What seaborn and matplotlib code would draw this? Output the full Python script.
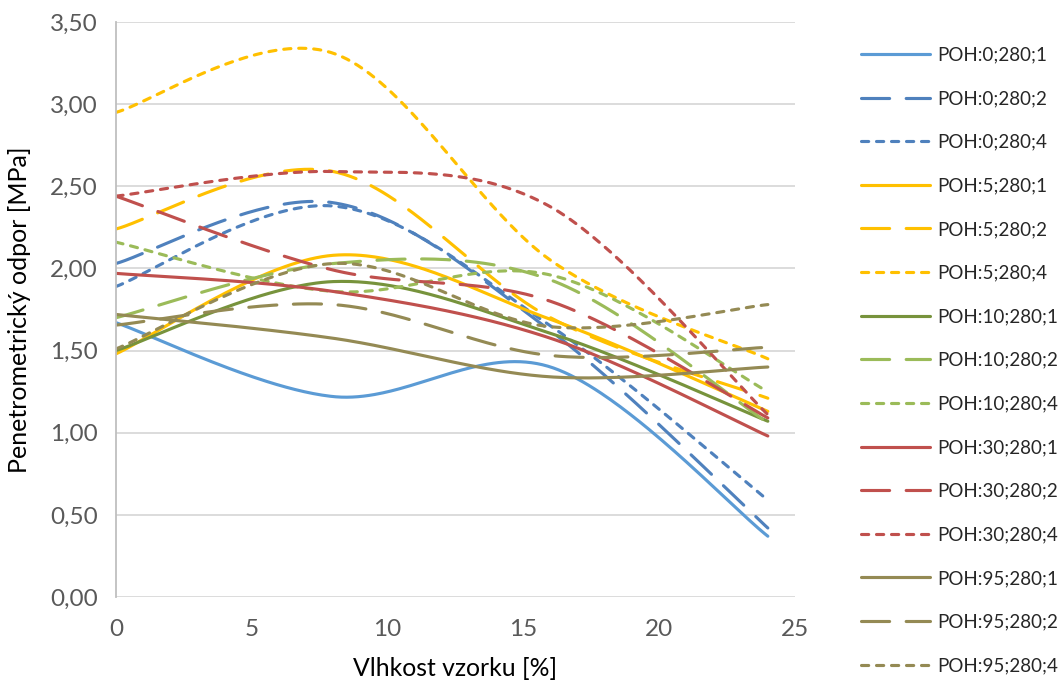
import numpy as np
import pandas as pd
import matplotlib
matplotlib.use("Agg")
import matplotlib.pyplot as plt
import seaborn as sns

# Moisture levels at which penetrometric resistance was measured [%]
moisture = [0, 8, 16, 24]

# Penetrometric resistance [MPa], one list per POH;280;n combination
poh_0_1 = [1.67, 1.22, 1.40, 0.37]
poh_0_2 = [2.03, 2.40, 1.62, 0.42]
poh_0_4 = [1.89, 2.38, 1.65, 0.59]
poh_5_1 = [1.48, 2.08, 1.69, 1.13]
poh_5_2 = [2.24, 2.59, 1.70, 1.21]
poh_5_4 = [2.95, 3.31, 2.05, 1.45]
poh_10_1 = [1.50, 1.92, 1.605, 1.07]
poh_10_2 = [1.70, 2.03, 1.93, 1.06]
poh_10_4 = [2.16, 1.86, 1.96, 1.25]
poh_30_1 = [1.97, 1.86, 1.575, 0.98]
poh_30_2 = [2.44, 1.99, 1.80, 1.09]
poh_30_4 = [2.44, 2.59, 2.375, 1.11]
poh_95_1 = [1.72, 1.575, 1.34, 1.40]
poh_95_2 = [1.655, 1.78, 1.47, 1.52]
poh_95_4 = [1.51, 2.03, 1.645, 1.78]

labels = ["POH:0;280;1", "POH:0;280;2", "POH:0;280;4",
          "POH:5;280;1", "POH:5;280;2", "POH:5;280;4",
          "POH:10;280;1", "POH:10;280;2", "POH:10;280;4",
          "POH:30;280;1", "POH:30;280;2", "POH:30;280;4",
          "POH:95;280;1", "POH:95;280;2", "POH:95;280;4"]
values = [poh_0_1, poh_0_2, poh_0_4, poh_5_1, poh_5_2, poh_5_4,
          poh_10_1, poh_10_2, poh_10_4, poh_30_1, poh_30_2, poh_30_4,
          poh_95_1, poh_95_2, poh_95_4]

colors = ["#5B9BD5", "#4F81BD", "#4F81BD",
          "#FFC000", "#FFC000", "#FFC000",
          "#77933C", "#9BBB59", "#9BBB59",
          "#C0504D", "#C0504D", "#C0504D",
          "#948A54", "#948A54", "#948A54"]
solid = "-"
long_dash = (0, (9, 5.3))
short_dash = (0, (2.3, 2.5))
styles = [solid, long_dash, short_dash] * 5


def smooth_curve(xs, ys, n=80):
    """Cubic Bezier smoothing through every point (Catmull-Rom tangents)."""
    pts = np.column_stack([xs, ys]).astype(float)
    out = []
    for i in range(len(pts) - 1):
        p0 = pts[i - 1] if i > 0 else pts[i]
        p1 = pts[i]
        p2 = pts[i + 1]
        p3 = pts[i + 2] if i + 2 < len(pts) else pts[i + 1]
        c1 = p1 + (p2 - p0) / 6.0
        c2 = p2 - (p3 - p1) / 6.0
        t = np.linspace(0, 1, n)[:, None]
        seg = ((1 - t) ** 3 * p1 + 3 * (1 - t) ** 2 * t * c1
               + 3 * (1 - t) * t ** 2 * c2 + t ** 3 * p2)
        out.append(seg if i == 0 else seg[1:])
    return np.vstack(out)


sns.set_theme(style="white")
plt.rcParams["font.family"] = ["Lato", "DejaVu Sans"]

fig = plt.figure(figsize=(10.59, 6.84), dpi=100)
ax = fig.add_axes([0.1095, 0.1272, 0.6412, 0.8406])

for lab, vals, col, ls in zip(labels, values, colors, styles):
    curve = smooth_curve(moisture, vals)
    df = pd.DataFrame({"x": curve[:, 0], "y": curve[:, 1]})
    sns.lineplot(data=df, x="x", y="y", sort=False, estimator=None, ax=ax,
                 color=col, linestyle=ls, linewidth=2.25, label=lab,
                 solid_capstyle="round", dash_capstyle="round")

ax.set_xlim(0, 25)
ax.set_ylim(0, 3.5)
ax.set_xticks(np.arange(0, 26, 5))
ax.set_yticks(np.arange(0, 3.51, 0.5))
ax.set_yticklabels([f"{v:.2f}".replace(".", ",") for v in np.arange(0, 3.51, 0.5)])

ax.grid(axis="y", color="#D9D9D9", linewidth=1.3)
ax.grid(axis="x", visible=False)
ax.set_axisbelow(True)
for side in ["top", "right", "bottom"]:
    ax.spines[side].set_visible(False)
ax.spines["left"].set_color("#BFBFBF")
ax.spines["left"].set_linewidth(1.3)

ax.tick_params(axis="both", length=0, labelsize=17.5, labelcolor="#595959")
ax.tick_params(axis="x", pad=16)
ax.tick_params(axis="y", pad=13)

ax.set_xlabel("Vlhkost vzorku [%]", fontsize=17.8, color="#000000", labelpad=12)
ax.set_ylabel("Penetrometrický odpor [MPa]", fontsize=18, color="#000000", labelpad=14)

handles, labs = ax.get_legend_handles_labels()
ax.legend(handles, labs, loc="upper left", bbox_to_anchor=(0.806, 0.943),
          bbox_transform=fig.transFigure, frameon=False, fontsize=13.5,
          handlelength=3.7, handletextpad=0.35, labelspacing=1.42,
          borderaxespad=0)

fig.savefig("out.png", dpi=100)
